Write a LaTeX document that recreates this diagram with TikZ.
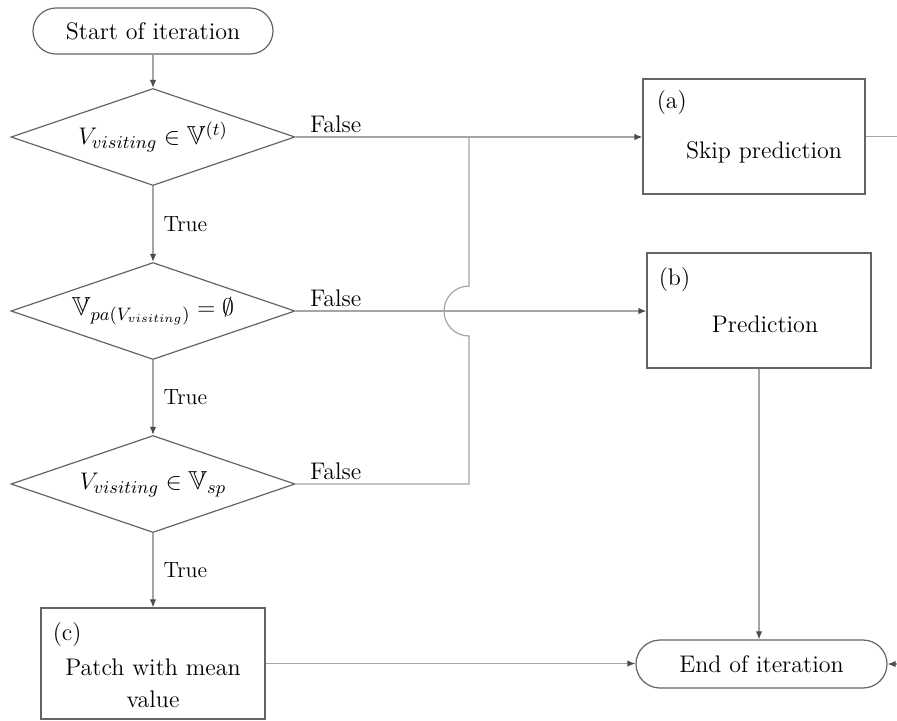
\documentclass[tikz,border=0pt]{standalone}
\usepackage{amsmath}
\usepackage{amssymb}
\usetikzlibrary{positioning,calc,arrows.meta}
\usetikzlibrary{shapes.geometric,shapes.misc}
\definecolor{linegray}{RGB}{165,165,165}
\definecolor{edgegray}{RGB}{100,100,100}
\definecolor{tipgray}{RGB}{75,75,75}
\tikzset{
  term/.style={rounded rectangle, draw=edgegray, line width=0.6pt, inner sep=0pt, font=\fontsize{12}{14}\selectfont},
  decision/.style={diamond, draw=edgegray, line width=0.6pt, inner sep=0pt, aspect=2.9,
    minimum width=142pt, minimum height=48.5pt, font=\fontsize{13}{15}\selectfont},
  process/.style={rectangle, draw=edgegray, line width=0.6pt, inner sep=0pt, minimum width=112pt, minimum height=57.5pt},
  boxtext/.style={inner sep=0pt, align=center, font=\fontsize{12}{16}\selectfont},
  lbl/.style={inner sep=0pt, font=\fontsize{11}{13}\selectfont},
  flow/.style={draw=linegray, line width=0.6pt, -{Latex[length=4pt,width=3.2pt,color=tipgray]}},
  plain/.style={draw=linegray, line width=0.6pt},
}

\begin{document}
\begin{tikzpicture}[x=0.5pt,y=-0.5pt]
  \useasboundingbox (0,0) rectangle (897,720);

  % left column
  \node[term, minimum width=120pt, minimum height=23pt] (start) at (153,31) {Start of iteration};
  \node[decision] (d1) at (153,137) {$V_{visiting}\in\mathbb{V}^{(t)}$};
  \node[decision] (d2) at (153,311) {$\mathbb{V}_{pa(V_{visiting})}=\emptyset$};
  \node[decision] (d3) at (153,484) {$V_{visiting}\in\mathbb{V}_{sp}$};
  \node[process, minimum height=55.5pt] (c) at (153,663.5) {};
  \node[boxtext, anchor=west] (clab) at ([shift={(6pt,-13.5pt)}]c.north west) {(c)};
  \node[boxtext] (ctext) at ([shift={(0pt,-10pt)}]c.center) {Patch with mean\\value};

  % right column
  \node[process, minimum width=111pt] (a) at (754,136.5) {};
  \node[boxtext, anchor=west] (alab) at ([shift={(7pt,-12pt)}]a.north west) {(a)};
  \node[boxtext] (atext) at ([shift={(5pt,-8pt)}]a.center) {Skip prediction};
  \node[process] (b) at (759,310.5) {};
  \node[boxtext, anchor=west] (blab) at ([shift={(6pt,-13.5pt)}]b.north west) {(b)};
  \node[boxtext] (btext) at ([shift={(3pt,-7pt)}]b.center) {Prediction};
  \node[term, minimum width=125.5pt, minimum height=24pt] (stop) at (761.5,664) {End of iteration};

  % True branches
  \draw[flow] (start.south) -- (d1.north);
  \draw[flow] (d1.south) -- node[lbl, right=5pt] (t1) {True} (d2.north);
  \draw[flow] (d2.south) -- node[lbl, right=5pt] (t2) {True} (d3.north);
  \draw[flow] (d3.south) -- node[lbl, right=5pt] (t3) {True} (c.north);

  % False branches
  \node[lbl, anchor=west, font=\fontsize{12}{14}\selectfont] (f1) at ([shift={(7pt,6.5pt)}]d1.east) {False};
  \node[lbl, anchor=west, font=\fontsize{12}{14}\selectfont] (f2) at ([shift={(7pt,6.5pt)}]d2.east) {False};
  \node[lbl, anchor=west, font=\fontsize{12}{14}\selectfont] (f3) at ([shift={(7pt,6.5pt)}]d3.east) {False};
  \coordinate (jx) at (469,0);
  \coordinate (jt) at (d1.east -| jx);
  \coordinate (jb) at (d3.east -| jx);
  \draw[flow] (d1.east) -- (d1.east -| a.west);
  \draw[flow] (d2.east) -- (d2.east -| b.west);
  \draw[plain] (d3.east) -- (jb) -- ($(d2.east -| jx)+(0,-12.5pt)$)
    arc[start angle=270, end angle=90, radius=12.5pt] -- (jt);

  % into end of iteration
  \coordinate (aout) at (897,137);
  \coordinate (ein) at (897,664);
  \draw[plain] (a.east) -- (a.east -| aout);
  \draw[flow] (b.south) -- (b.south |- stop.north);
  \draw[flow] (c.east) -- (c.east -| stop.west);
  \draw[flow] (ein) -- (stop.east);
\end{tikzpicture}
\end{document}
